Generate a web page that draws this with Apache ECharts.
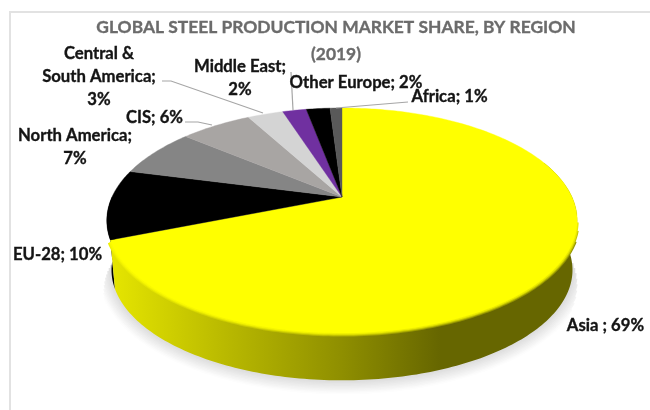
<!DOCTYPE html>
<html>
<head>
<meta charset="utf-8">
<style>html,body{margin:0;padding:0;background:#fff}#c{width:650px;height:410px}</style>
<script src="https://cdn.jsdelivr.net/npm/echarts@6/dist/echarts.min.js"></script>
</head>
<body>
<div id="c"></div>
<script>
const titleText = 'GLOBAL STEEL PRODUCTION MARKET SHARE, BY REGION\n(2019)';
const categories = ['Asia ', 'EU-28', 'North America', 'CIS', 'Central &\nSouth America', 'Middle East', 'Other Europe', 'Africa'];
const shares = [69, 10, 7, 6, 3, 2, 2, 1];
const separators = ['; ', '; ', ';\n', '; ', ';\n', ';\n', '; ', '; '];
const colors = ['#ffff00', '#000000', '#858585', '#a8a5a3', '#d4d4d4', '#7030a0', '#000000', '#595959'];
const labelCentres = [[605.5, 326], [57.5, 255], [75, 147], [154.5, 118], [99, 77], [240, 78], [356, 83], [449.5, 97]];
const leaders = [null, null, null,
  [[185, 122], [198, 122], [212, 125]],
  [[162, 81], [171, 81], [263, 113]],
  [[291, 72], [293, 110]],
  null,
  [[336, 108], [408, 102]]];

// Perspective projection of the tilted disc
const cx = 342, apexY = 197, k = 0.209, sx = 230, sy = 107.6;
const depth = 50, shrink = 0.98;
function topPt(deg) {
  const a = deg * Math.PI / 180, X = Math.sin(a), Y = -Math.cos(a), w = 1 - k * Y;
  return [cx + sx * X / w, apexY + sy * Y / w];
}
function lowPt(deg) {
  const p = topPt(deg);
  return [cx + (p[0] - cx) * shrink, apexY + (p[1] - apexY) * shrink + depth];
}
function arc(fn, a0, a1) {
  const pts = [], n = Math.max(2, Math.ceil(Math.abs(a1 - a0)));
  for (let i = 0; i <= n; i++) pts.push(fn(a0 + (a1 - a0) * i / n));
  return pts;
}
const total = shares.reduce((a, b) => a + b, 0);
const starts = [];
shares.reduce((acc, v, i) => { starts[i] = acc; return acc + v; }, 0);

const wallStops = [[0, 230], [0.35, 185], [0.7, 143], [1, 102]];
function wallGradient(mix) {
  return new echarts.graphic.LinearGradient(110, 0, 440, 0, wallStops.map(s => {
    const c = Math.round(s[1] + (255 - s[1]) * mix);
    return { offset: s[0], color: 'rgb(' + c + ',' + c + ',0)' };
  }), true);
}

function softShadow() {
  const layers = [], n = 10;
  for (let j = n; j >= 1; j--) {
    const t = j / n, width = 28 * t;
    const g = Math.round(218 + (253 - 218) * t);
    layers.push({
      type: 'polyline', z2: 1 + (n - j) * 0.05,
      shape: { points: arc(lowPt, 96 + 25 * t, 262 - 15 * t) },
      style: { stroke: 'rgb(' + g + ',' + g + ',' + g + ')', lineWidth: width, fill: null }
    });
  }
  return layers;
}

function renderItem(params, api) {
  const i = params.dataIndex;
  const a0 = starts[i] / total * 360, a1 = (starts[i] + api.value(0)) / total * 360;
  const children = [];
  if (i === 0) softShadow().forEach(s => children.push(s));
  if (i <= 1) {
    const from = i === 0 ? 70 : a0, to = i === 0 ? a1 : Math.min(a1, 270);
    const wallPts = arc(topPt, from, to).concat(arc(lowPt, to, from));
    children.push({
      type: 'polygon', z2: i === 0 ? 3 : 2,
      shape: { points: wallPts },
      style: { fill: i === 0 ? wallGradient(0) : colors[i] }
    });
  }
  if (i === 0) {
    [[7, 0.3, 112], [5, 0.6, 107], [3, 0.85, 103]].forEach((r, idx) => children.push({
      type: 'polyline', z2: 4 + idx * 0.1,
      shape: { points: arc(topPt, r[2], a1 - 1) },
      style: { stroke: wallGradient(r[1]), lineWidth: r[0], fill: null }
    }));
  }
  children.push({
    type: 'polygon', z2: 5,
    shape: { points: [[cx, apexY]].concat(arc(topPt, a0, a1)) },
    style: { fill: colors[i], stroke: colors[i], lineWidth: 0.4 }
  });
  if (leaders[i]) {
    children.push({
      type: 'polyline', z2: 6,
      shape: { points: leaders[i] },
      style: { stroke: '#a6a6a6', lineWidth: 1.2, fill: null }
    });
  }
  children.push({
    type: 'text', z2: 7,
    style: {
      text: categories[i] + separators[i] + api.value(0) + '%',
      x: labelCentres[i][0], y: labelCentres[i][1],
      align: 'center', verticalAlign: 'middle',
      font: 'bold 16.7px Lato', lineHeight: 23, fill: '#141414',
      stroke: '#141414', lineWidth: 0.35
    }
  });
  return { type: 'group', children };
}

const chart = echarts.init(document.getElementById('c'), null, { renderer: 'canvas' });
chart.setOption({
  animation: false,
  backgroundColor: '#ffffff',
  title: {
    text: titleText, left: 331, top: 9, textAlign: 'center',
    textStyle: { fontFamily: 'Lato', fontWeight: 'bold', fontSize: 17.4, lineHeight: 27, color: '#6b6b6b',
      textBorderColor: '#6b6b6b', textBorderWidth: 0.35 }
  },
  graphic: [{
    type: 'polyline', silent: true,
    shape: { points: [[10, 410], [10, 12], [650, 12]] },
    style: { stroke: '#e2e2e2', lineWidth: 2, fill: null }
  }],
  xAxis: { show: false, type: 'value' },
  yAxis: { show: false, type: 'value' },
  grid: { left: 0, right: 0, top: 0, bottom: 0 },
  series: [{
    type: 'custom',
    coordinateSystem: 'none',
    renderItem,
    data: shares.map(v => [v]),
    clip: false,
    silent: true
  }]
});
</script>
</body>
</html>
